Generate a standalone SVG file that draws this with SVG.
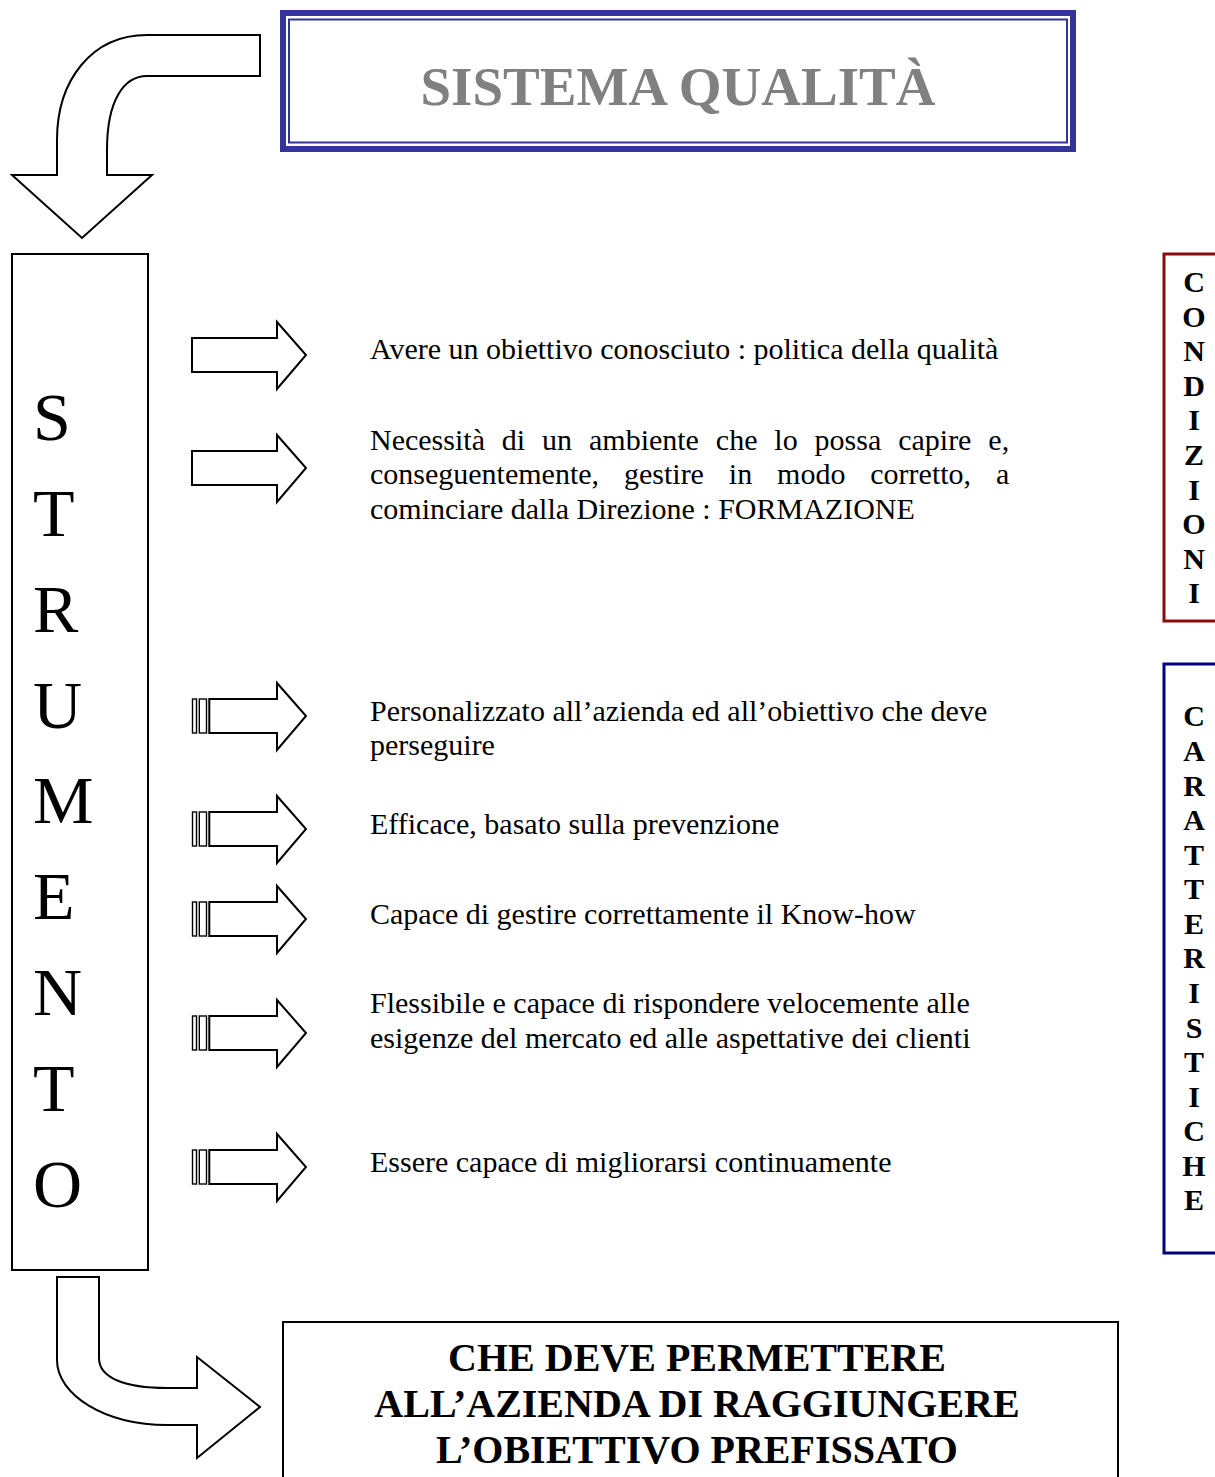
<svg xmlns="http://www.w3.org/2000/svg" width="1215" height="1477" viewBox="0 0 1215 1477">
<style>
.shape{fill:#fff;stroke:#000;stroke-width:2;stroke-linejoin:miter}
.stripe{fill:#fff;stroke:#000;stroke-width:1.4}
.body{font-family:"Liberation Serif","Times New Roman",serif;font-size:30px;fill:#000}
.big{font-family:"Liberation Serif","Times New Roman",serif;font-size:68px;fill:#000}
.vert{font-family:"Liberation Serif","Times New Roman",serif;font-size:30px;font-weight:bold;fill:#000;text-anchor:middle}
.bot{font-family:"Liberation Serif","Times New Roman",serif;font-size:40px;font-weight:bold;fill:#000;text-anchor:middle}
</style>
<defs>
<path id="plainArrow" d="M192,-17 L277,-17 L277,-33 L306,0 L277,34 L277,17 L192,17 Z"/>
<g id="stripedArrow">
<rect class="stripe" x="192.5" y="-17" width="4" height="34"/>
<rect class="stripe" x="199.3" y="-17" width="7.2" height="34"/>
<path d="M209.3,-17 L277,-17 L277,-33 L306,0 L277,34 L277,17 L209.3,17 Z"/>
</g>
</defs>
<rect width="1215" height="1477" fill="#fff"/>

<g id="title">
<rect x="283" y="13" width="790" height="136" fill="#fff" stroke="#333399" stroke-width="6"/>
<rect x="289" y="19.5" width="778" height="123" fill="none" stroke="#333399" stroke-width="2"/>
<text x="678" y="105" text-anchor="middle" font-family="'Liberation Serif','Times New Roman',serif" font-size="55" font-weight="bold" fill="#808080">SISTEMA QUALITÀ</text>
</g>

<g id="connectors">
<path class="shape" d="M260,35 L147,35 C92,35 57,80 57,140 L57,175 L12,175 L82,238 L152,175 L107,175 L107,150 C107,100 124,76 147,76 L260,76 Z"/>
<path class="shape" d="M57,1277 L99,1277 L99,1358 C99,1378 125,1388 167,1388 L197,1388 L197,1357 L260,1407 L197,1458 L197,1425 L167,1425 C105,1425 57,1395 57,1360 Z"/>
<use href="#plainArrow" class="shape" transform="translate(0,355)"/>
<use href="#plainArrow" class="shape" transform="translate(0,468)"/>
<use href="#stripedArrow" class="shape" transform="translate(0,716)"/>
<use href="#stripedArrow" class="shape" transform="translate(0,829)"/>
<use href="#stripedArrow" class="shape" transform="translate(0,919)"/>
<use href="#stripedArrow" class="shape" transform="translate(0,1033)"/>
<use href="#stripedArrow" class="shape" transform="translate(0,1167)"/>
</g>

<g id="strumento">
<rect x="12" y="254" width="136" height="1016" fill="#fff" stroke="#000" stroke-width="2"/>
<text class="big" x="33" y="440">S</text>
<text class="big" x="33" y="536">T</text>
<text class="big" x="33" y="632">R</text>
<text class="big" x="33" y="728">U</text>
<text class="big" x="33" y="823">M</text>
<text class="big" x="33" y="919">E</text>
<text class="big" x="33" y="1015">N</text>
<text class="big" x="33" y="1111">T</text>
<text class="big" x="33" y="1207">O</text>
</g>

<g id="item1"><text class="body" x="370" y="359">Avere un obiettivo conosciuto : politica della qualità</text></g>
<g id="item2">
<text class="body" x="370" y="450" word-spacing="9.4">Necessità di un ambiente che lo possa capire e,</text>
<text class="body" x="370" y="484" word-spacing="17.4">conseguentemente, gestire in modo corretto, a</text>
<text class="body" x="370" y="519">cominciare dalla Direzione : FORMAZIONE</text>
</g>
<g id="item3">
<text class="body" x="370" y="721">Personalizzato all’azienda ed all’obiettivo che deve</text>
<text class="body" x="370" y="755">perseguire</text>
</g>
<g id="item4"><text class="body" x="370" y="834">Efficace, basato sulla prevenzione</text></g>
<g id="item5"><text class="body" x="370" y="924">Capace di gestire correttamente il Know-how</text></g>
<g id="item6">
<text class="body" x="370" y="1013">Flessibile e capace di rispondere velocemente alle</text>
<text class="body" x="370" y="1048">esigenze del mercato ed alle aspettative dei clienti</text>
</g>
<g id="item7"><text class="body" x="370" y="1172">Essere capace di migliorarsi continuamente</text></g>

<g id="condizioni">
<rect x="1164" y="254" width="70" height="367" fill="#fff" stroke="#8B0A0A" stroke-width="3"/>
<text class="vert" x="1194" y="292">C</text>
<text class="vert" x="1194" y="327">O</text>
<text class="vert" x="1194" y="361">N</text>
<text class="vert" x="1194" y="396">D</text>
<text class="vert" x="1194" y="430">I</text>
<text class="vert" x="1194" y="465">Z</text>
<text class="vert" x="1194" y="500">I</text>
<text class="vert" x="1194" y="534">O</text>
<text class="vert" x="1194" y="569">N</text>
<text class="vert" x="1194" y="603">I</text>
</g>

<g id="caratteristiche">
<rect x="1164" y="664" width="70" height="589" fill="#fff" stroke="#000080" stroke-width="3"/>
<text class="vert" x="1194" y="726">C</text>
<text class="vert" x="1194" y="761">A</text>
<text class="vert" x="1194" y="796">R</text>
<text class="vert" x="1194" y="830">A</text>
<text class="vert" x="1194" y="865">T</text>
<text class="vert" x="1194" y="899">T</text>
<text class="vert" x="1194" y="934">E</text>
<text class="vert" x="1194" y="968">R</text>
<text class="vert" x="1194" y="1003">I</text>
<text class="vert" x="1194" y="1038">S</text>
<text class="vert" x="1194" y="1072">T</text>
<text class="vert" x="1194" y="1107">I</text>
<text class="vert" x="1194" y="1141">C</text>
<text class="vert" x="1194" y="1176">H</text>
<text class="vert" x="1194" y="1210">E</text>
</g>

<g id="obiettivo">
<rect x="283" y="1322" width="835" height="170" fill="#fff" stroke="#000" stroke-width="2"/>
<text class="bot" x="697" y="1371">CHE DEVE PERMETTERE</text>
<text class="bot" x="697" y="1417">ALL’AZIENDA DI RAGGIUNGERE</text>
<text class="bot" x="697" y="1463">L’OBIETTIVO PREFISSATO</text>
</g>
</svg>
